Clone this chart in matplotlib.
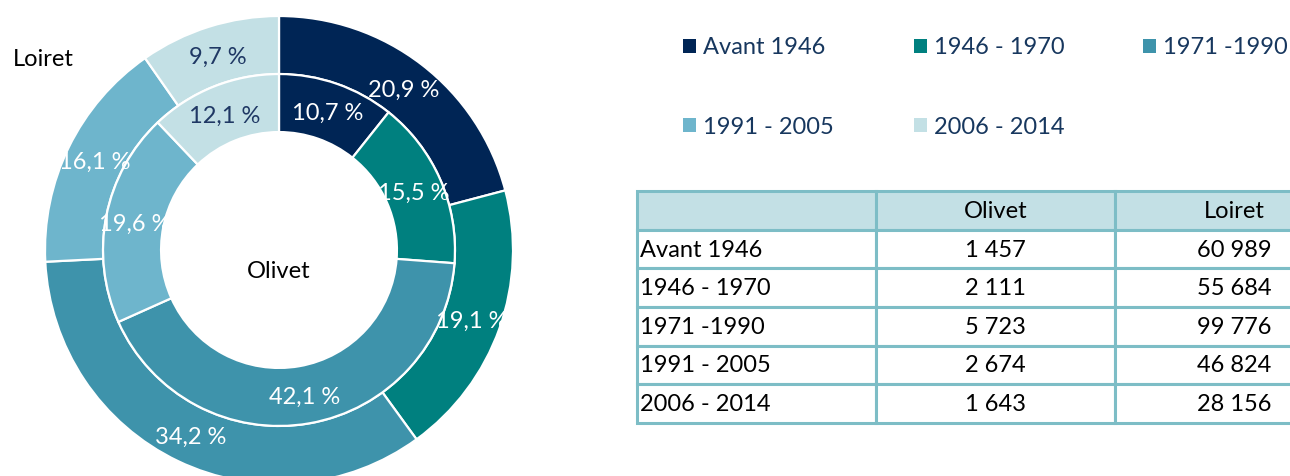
import matplotlib
matplotlib.use("Agg")
import numpy as np
import matplotlib.pyplot as plt
from matplotlib.patches import Rectangle

plt.rcParams["font.family"] = ["Lato", "DejaVu Sans"]

# ─────────────────────────────────────────────
#  Données
# ─────────────────────────────────────────────
periodes = ["Avant 1946", "1946 - 1970", "1971 -1990", "1991 - 2005", "2006 - 2014"]
olivet = [1457, 2111, 5723, 2674, 1643]
loiret = [60989, 55684, 99776, 46824, 28156]
# parts (%) telles qu'affichées sur les anneaux
olivet_pct = [10.7, 15.5, 42.1, 19.6, 12.1]
loiret_pct = [20.9, 19.1, 34.2, 16.1, 9.7]
colonnes = ["", "Olivet", "Loiret"]

couleurs = ["#002555", "#00807F", "#3E93AB", "#6EB5CC", "#C3E0E5"]
labels_fonces = ["white", "white", "white", "white", "#1F3864"]
navy = "#17375E"
FS = 17

W, H = 1290, 477


def fmt_pct(p):
    return f"{p:.1f}".replace(".", ",") + " %"


def fmt_nb(v):
    return f"{v:,}".replace(",", " ")


fig = plt.figure(figsize=(W / 100, H / 100), dpi=100)

# ─────────────────────────────────────────────
#  Anneaux (extérieur = Loiret, intérieur = Olivet)
# ─────────────────────────────────────────────
cx, cy, r = 279, 251, 234
ax = fig.add_axes([(cx - r) / W, (H - cy - r) / H, 2 * r / W, 2 * r / H])

ring = 0.248
r_in = 1 - ring
wp = dict(width=ring, edgecolor="white", linewidth=1.6)

w_out, _ = ax.pie(loiret_pct, radius=1.0, startangle=90, counterclock=False,
                  colors=couleurs, wedgeprops=wp)
w_in, _ = ax.pie(olivet_pct, radius=r_in, startangle=90, counterclock=False,
                 colors=couleurs, wedgeprops=wp)

for wedges, pcts, rad in ((w_out, loiret_pct, 1 - ring / 2), (w_in, olivet_pct, r_in - ring / 2)):
    for w, p, c in zip(wedges, pcts, labels_fonces):
        ang = np.deg2rad((w.theta1 + w.theta2) / 2)
        ax.text(rad * np.cos(ang), rad * np.sin(ang) - 0.006, fmt_pct(p),
                ha="center", va="center", fontsize=FS, color=c)

ax.text(0, -0.088, "Olivet", ha="center", va="center", fontsize=FS, color="black")
ax.set_xlim(-1, 1)
ax.set_ylim(-1, 1)
ax.set_aspect("equal")
ax.axis("off")

fig.text(43 / W, 1 - 59 / H, "Loiret", ha="center", va="center", fontsize=FS, color="black")

# ─────────────────────────────────────────────
#  Légende
# ─────────────────────────────────────────────
leg_x = [683, 914, 1143]
leg_y = [47, 126]
for i, (p, c) in enumerate(zip(periodes, couleurs)):
    x = leg_x[i % 3]
    y = leg_y[i // 3]
    fig.patches.append(Rectangle((x / W, 1 - (y + 7) / H), 13 / W, 14 / H,
                                 transform=fig.transFigure, facecolor=c, edgecolor="none"))
    fig.text((x + 20) / W, 1 - (y + 1) / H, p, ha="left", va="center", fontsize=FS, color=navy)

# ─────────────────────────────────────────────
#  Tableau
# ─────────────────────────────────────────────
ax_t = fig.add_axes([637 / W, (H - 424) / H, 717 / W, 232 / H])
ax_t.axis("off")
rows = [[p, fmt_nb(o), fmt_nb(l)] for p, o, l in zip(periodes, olivet, loiret)]
tbl = ax_t.table(cellText=rows, colLabels=colonnes, cellLoc="center", bbox=[0, 0, 1, 1])
tbl.auto_set_font_size(False)
tbl.set_fontsize(FS)
for (i, j), cell in tbl.get_celld().items():
    cell.set_edgecolor("#7DBDC6")
    cell.set_linewidth(2.2)
    cell.set_facecolor("#C3E0E5" if i == 0 else "white")
    cell.get_text().set_color("black")
    if j == 0:
        cell.get_text().set_ha("left")
        cell.PAD = 0.012

fig.savefig("out.png", dpi=100)
